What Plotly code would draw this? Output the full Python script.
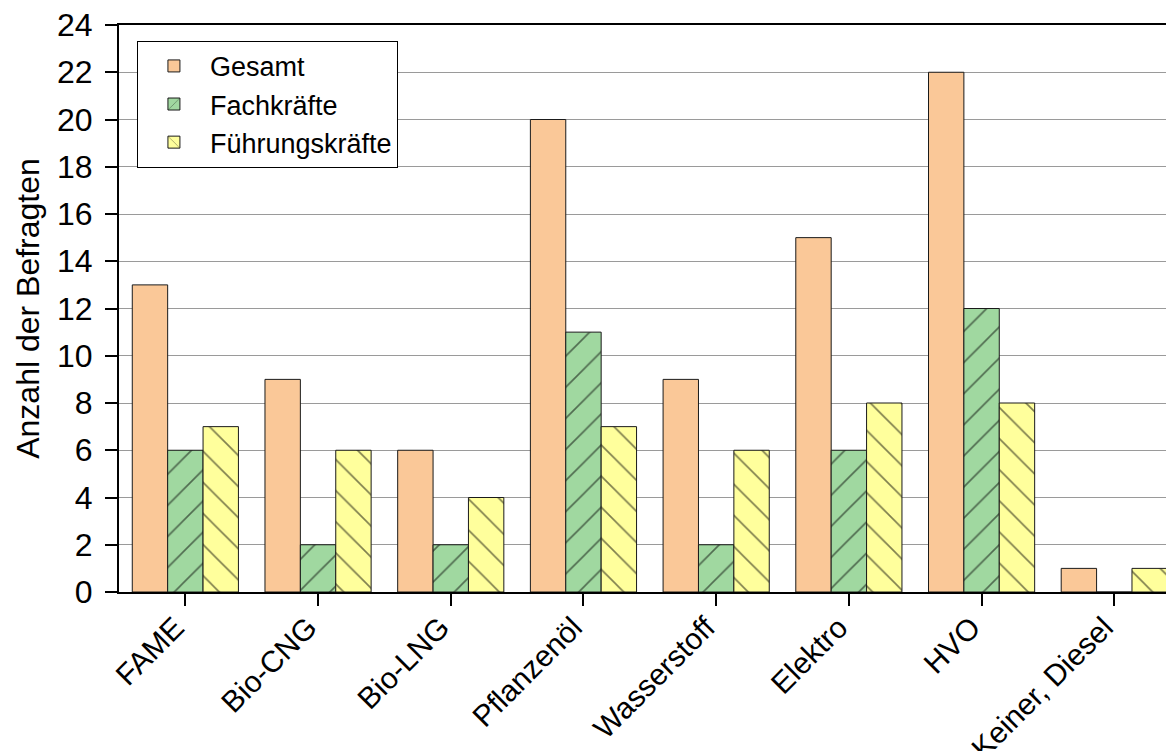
import plotly.graph_objects as go

categories = ["FAME", "Bio-CNG", "Bio-LNG", "Pflanzenöl", "Wasserstoff", "Elektro", "HVO", "Keiner, Diesel"]
gesamt = [13, 9, 6, 20, 9, 15, 22, 1]
fachkraefte = [6, 2, 2, 11, 2, 6, 12, 0]
fuehrungskraefte = [7, 6, 4, 7, 6, 8, 8, 1]

series_names = ["Gesamt", "Fachkräfte", "Führungskräfte"]
y_ticks = list(range(0, 25, 2))

FONT = "Liberation Sans, Arial, sans-serif"

fig = go.Figure()
fig.add_trace(go.Bar(
    x=categories, y=gesamt, name=series_names[0],
    marker=dict(color="#FAC898", line=dict(color="#1a1a1a", width=1)),
))
fig.add_trace(go.Bar(
    x=categories, y=fachkraefte, name=series_names[1],
    marker=dict(color="#A0D8A0", line=dict(color="#1a1a1a", width=1),
                pattern=dict(shape="/", fgcolor="#000000", size=22, solidity=0.075)),
))
fig.add_trace(go.Bar(
    x=categories, y=fuehrungskraefte, name=series_names[2],
    marker=dict(color="#FFFF9C", line=dict(color="#1a1a1a", width=1),
                pattern=dict(shape="\\", fgcolor="#000000", size=22, solidity=0.075)),
))

fig.update_layout(
    width=1166, height=743,
    margin=dict(l=111, r=0, t=17, b=159, autoexpand=False),
    paper_bgcolor="white", plot_bgcolor="white",
    barmode="group", bargap=0.2, bargroupgap=0,
    font=dict(family=FONT, color="black"),
    showlegend=True,
    legend=dict(
        x=0.017, y=0.972, xanchor="left", yanchor="top",
        bgcolor="white", bordercolor="black", borderwidth=1,
        font=dict(size=27, family=FONT, color="black"),
        traceorder="normal",
        tracegroupgap=0,
        itemwidth=62,
    ),
    xaxis=dict(
        range=[-0.5, 7.45],
        showline=True, linecolor="black", linewidth=2, mirror=True,
        ticks="outside", ticklen=12, tickwidth=2, tickcolor="black",
        tickangle=-45, tickfont=dict(size=30, family=FONT, color="black"),
        ticklabeloverflow="allow",
        ticklabelstandoff=-8, ticklabelshift=-10,
        showgrid=False, automargin=False,
    ),
    yaxis=dict(
        range=[0, 24], tickvals=y_ticks,
        showline=True, linecolor="black", linewidth=2,
        ticks="outside", ticklen=12, tickwidth=2, tickcolor="black",
        tickfont=dict(size=32, family=FONT, color="black"),
        ticklabelstandoff=6, ticklabeloverflow="allow",
        showgrid=True, gridcolor="#9a9a9a", gridwidth=1,
        zeroline=False, automargin=False,
        title=dict(text="Anzahl der Befragten", font=dict(size=32, family=FONT, color="black"), standoff=8),
    ),
)

fig.write_html("out.html")
